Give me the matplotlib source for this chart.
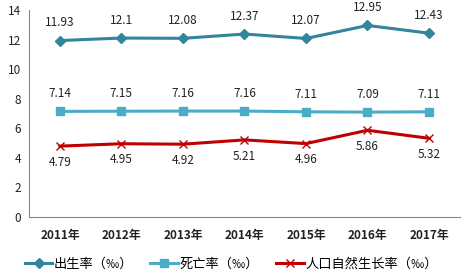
import matplotlib
matplotlib.use("Agg")
import matplotlib.pyplot as plt

plt.rcParams['font.family'] = ['Noto Sans CJK SC', 'DejaVu Sans']

years = ["2011年", "2012年", "2013年", "2014年", "2015年", "2016年", "2017年"]
birth = [11.93, 12.1, 12.08, 12.37, 12.07, 12.95, 12.43]
death = [7.14, 7.15, 7.16, 7.16, 7.11, 7.09, 7.11]
natural = [4.79, 4.95, 4.92, 5.21, 4.96, 5.86, 5.32]
labels = ["出生率（‰）", "死亡率（‰）", "人口自然生长率（‰）"]

c_birth = "#31859C"
c_death = "#4BACC6"
c_nat = "#C00000"

fig = plt.figure(figsize=(4.63, 2.76), dpi=100)
ax = fig.add_axes([0.063, 0.214, 0.930, 0.750])
x = list(range(len(years)))

ax.plot(x, birth, color=c_birth, lw=2.2, marker="D", ms=5, label=labels[0])
ax.plot(x, death, color=c_death, lw=2.2, marker="s", ms=6, label=labels[1])
ax.plot(x, natural, color=c_nat, lw=2.2, marker="x", ms=6, mew=1.0, label=labels[2])

for i in x:
    ax.annotate(f"{birth[i]:g}", (i, birth[i]), xytext=(0, 8), textcoords="offset points",
                ha="center", va="bottom", fontsize=8.5, color="#222222")
    ax.annotate(f"{death[i]:g}", (i, death[i]), xytext=(0, 8), textcoords="offset points",
                ha="center", va="bottom", fontsize=8.5, color="#222222")
    ax.annotate(f"{natural[i]:g}", (i, natural[i]), xytext=(0, -7), textcoords="offset points",
                ha="center", va="top", fontsize=8.5, color="#222222")

ax.set_xlim(-0.5, len(years) - 0.5)
ax.set_ylim(0, 14)
ax.set_yticks(range(0, 15, 2))
ax.set_xticks(x)
ax.set_xticklabels(years, fontsize=8.5, fontweight="bold", color="#222222")
ax.tick_params(axis="y", length=0, labelsize=8.5, labelcolor="#222222", pad=6)
ax.tick_params(axis="x", length=0, pad=9)
for s in ["top", "right"]:
    ax.spines[s].set_visible(False)
for s in ["left", "bottom"]:
    ax.spines[s].set_color("#888888")
    ax.spines[s].set_linewidth(0.8)

ax.legend(loc="upper center", bbox_to_anchor=(0.469, -0.14), ncol=3, frameon=False,
          fontsize=9.5, handlelength=2.1, columnspacing=1.3, handletextpad=0.1)

fig.savefig("out.png", dpi=100)
